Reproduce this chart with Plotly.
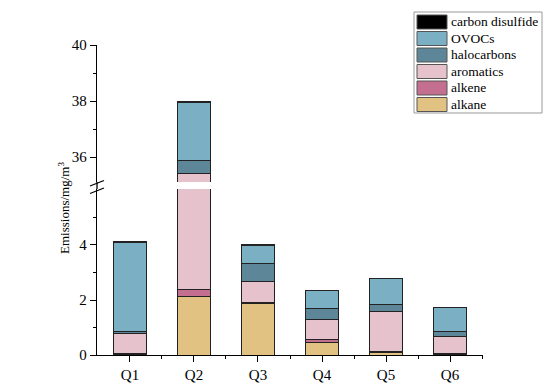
import plotly.graph_objects as go

categories = ["Q1", "Q2", "Q3", "Q4", "Q5", "Q6"]
series_names = ["alkane", "alkene", "aromatics", "halocarbons", "OVOCs", "carbon disulfide"]
alkane = [0.02, 2.12, 1.89, 0.46, 0.10, 0.02]
alkene = [0.02, 0.27, 0.03, 0.12, 0.03, 0.03]
aromatics = [0.75, 33.02, 0.75, 0.72, 1.44, 0.62]
halocarbons = [0.08, 0.47, 0.67, 0.38, 0.27, 0.18]
ovocs = [3.22, 2.06, 0.64, 0.66, 0.93, 0.87]
carbon_disulfide = [0.02, 0.06, 0.02, 0.01, 0.03, 0.01]
series_values = [alkane, alkene, aromatics, halocarbons, ovocs, carbon_disulfide]
colors = ["#E1C283", "#C46E90", "#E6C3CC", "#5E8699", "#7BAFC3", "#000000"]

lower_ticks = [0, 2, 4]
upper_ticks = [36, 38, 40]

FONT = "Liberation Serif"
W, H = 550, 388
ML, MR, MT, MB = 97, 67, 45, 33
PW, PH = W - ML - MR, H - MT - MB

def px_x(p):
    return (p - ML) / PW

def px_y(p):
    return (H - MB - p) / PH

xs = list(range(len(categories)))
fig = go.Figure()
for yax in ["y", "y2"]:
    for name, vals, col in zip(series_names, series_values, colors):
        fig.add_trace(go.Bar(
            x=xs, y=vals, name=name, xaxis="x", yaxis=yax,
            marker=dict(color=col, line=dict(color="#222222", width=1)),
            width=0.52, showlegend=False,
        ))

lower_top = px_y(189)
upper_bot = px_y(182)

axis_common = dict(showline=True, linecolor="black", linewidth=1.3, ticks="outside",
                   ticklen=6, tickwidth=1.3, tickcolor="black", showgrid=False,
                   zeroline=False, automargin=False,
                   tickfont=dict(family=FONT, size=15, color="black"))

fig.update_layout(
    width=W, height=H, barmode="stack", autosize=False,
    margin=dict(l=ML, r=MR, t=MT, b=MB),
    paper_bgcolor="white", plot_bgcolor="white",
    font=dict(family=FONT, color="black"),
    xaxis=dict(range=[-0.515, 5.515], tickvals=xs, ticktext=categories,
               minor=dict(tickvals=[i + 0.5 for i in xs[:-1]] + [5.5], ticklen=3, tickwidth=1.3, tickcolor="black", ticks="outside"),
               anchor="y", **axis_common),
    yaxis=dict(domain=[0, lower_top], range=[0, 6.036], tickvals=lower_ticks,
               minor=dict(tickvals=[1, 3, 5], ticklen=3, tickwidth=1.3, tickcolor="black", ticks="outside"),
               anchor="x", **axis_common),
    yaxis2=dict(domain=[upper_bot, 1], range=[35.107, 40], tickvals=upper_ticks,
                minor=dict(tickvals=[37, 39], ticklen=3, tickwidth=1.3, tickcolor="black", ticks="outside"),
                anchor="x", **axis_common),
)

# connect axis line through break and draw break marks
fig.add_shape(type="line", xref="paper", yref="paper", x0=0, x1=0, y0=lower_top, y1=upper_bot,
              line=dict(color="black", width=1.3))
for (a, b) in [((90, 186), (104, 180.5)), ((90, 193.5), (104, 188))]:
    fig.add_shape(type="line", xref="paper", yref="paper",
                  x0=px_x(a[0]), y0=px_y(a[1]), x1=px_x(b[0]), y1=px_y(b[1]),
                  line=dict(color="black", width=1.3))

# y title
fig.add_annotation(text="Emissions/mg/m<sup>3</sup>", xref="paper", yref="paper",
                   x=px_x(54), y=px_y(208), textangle=-90, showarrow=False,
                   font=dict(family=FONT, size=13, color="black"))

# legend box
fig.add_shape(type="rect", xref="paper", yref="paper", x0=px_x(414), x1=px_x(542),
              y0=px_y(113), y1=px_y(12), line=dict(color="#999999", width=1), fillcolor="white")
row_centers = [104.5, 88, 71.5, 55, 38.5, 22]
for name, col, cy in zip(series_names, colors, row_centers):
    fig.add_shape(type="rect", xref="paper", yref="paper", x0=px_x(417), x1=px_x(447),
                  y0=px_y(cy + 7), y1=px_y(cy - 7), fillcolor=col,
                  line=dict(color="#555555", width=1))
    fig.add_annotation(text=name, xref="paper", yref="paper", x=px_x(449), y=px_y(cy),
                       xanchor="left", yanchor="middle", showarrow=False,
                       font=dict(family=FONT, size=13.5, color="black"))

fig.write_html("out.html", config={"responsive": False, "displayModeBar": False},
               post_script="document.body.style.margin='0';document.body.style.padding='0';")
